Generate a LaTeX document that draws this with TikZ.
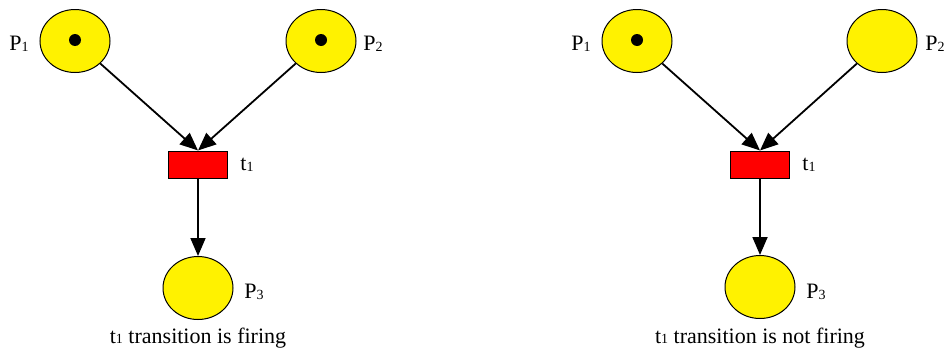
\documentclass[tikz,border=0pt]{standalone}
\usepackage{fontspec}
\setmainfont{Liberation Serif}
\usetikzlibrary{arrows.meta,shapes.geometric}
\newcommand\lowidx[1]{\raisebox{-0.5pt}{\fontsize{14pt}{15pt}\selectfont #1}}
\tikzset{
  place/.style={ellipse,draw=black,line width=1pt,fill=yellow,minimum width=70pt,minimum height=63pt,inner sep=0pt},
  trans/.style={rectangle,draw=black,line width=1pt,fill=red,minimum width=59pt,minimum height=27pt,inner sep=0pt},
  token/.style={circle,fill=black,minimum size=12pt,inner sep=0pt},
  lbl/.style={font=\fontsize{22pt}{24pt}\selectfont,inner sep=0pt},
  arc/.style={line width=1.8pt,-{Triangle[length=18pt,width=15pt]}}
}
\begin{document}
\begin{tikzpicture}[x=1pt,y=-1pt]
\useasboundingbox (0,0) rectangle (950,351);
% left net
\node[place] (p1a) at (75,41) {};
\node[token] (k1a) at (75,40) {};
\node[place] (p2a) at (321,41) {};
\node[token] (k2a) at (321,40) {};
\node[trans] (t1a) at (198,164.5) {};
\node[place] (p3a) at (198,288) {};
\node[lbl] (l1a) at (19,44) {P\lowidx{1}};
\node[lbl] (l2a) at (373,44) {P\lowidx{2}};
\node[lbl] (lta) at (247,165) {t\lowidx{1}};
\node[lbl] (l3a) at (254,292) {P\lowidx{3}};
\node[lbl] (ca) at (198,338) {t\lowidx{1} transition is firing};
\draw[arc] (p1a) -- (t1a.north);
\draw[arc] (p2a) -- (t1a.north);
\draw[arc] (t1a) -- (p3a);
% right net
\node[place] (p1b) at (637,41) {};
\node[token] (k1b) at (637,40) {};
\node[place] (p2b) at (882,41) {};
\node[trans] (t1b) at (760,164.5) {};
\node[place] (p3b) at (760,287) {};
\node[lbl] (l1b) at (581,44) {P\lowidx{1}};
\node[lbl] (l2b) at (935,44) {P\lowidx{2}};
\node[lbl] (ltb) at (809,165) {t\lowidx{1}};
\node[lbl] (l3b) at (816,292) {P\lowidx{3}};
\node[lbl] (cb) at (760,338) {t\lowidx{1} transition is not firing};
\draw[arc] (p1b) -- (t1b.north);
\draw[arc] (p2b) -- (t1b.north);
\draw[arc] (t1b) -- (p3b);
\end{tikzpicture}
\end{document}
